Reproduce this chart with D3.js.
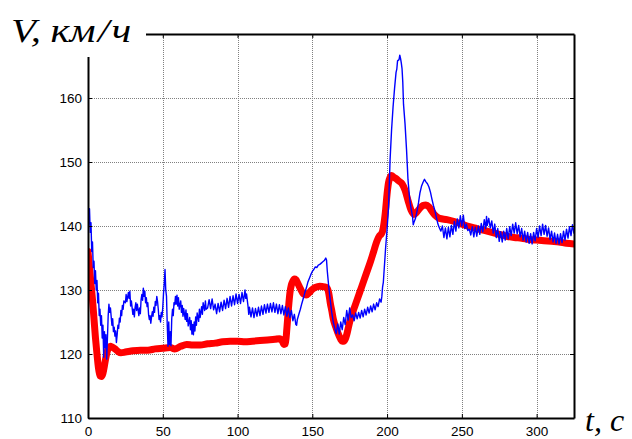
<!DOCTYPE html>
<html><head><meta charset="utf-8">
<script src="https://cdn.jsdelivr.net/npm/d3@7"></script>
<style>html,body{margin:0;padding:0;background:#fff;}svg{display:block;}</style>
</head><body>
<script>
const xTicks = [0, 50, 100, 150, 200, 250, 300];
const yTicks = [110, 120, 130, 140, 150, 160];
const xLabel = "t, c";

// Blue (measured) speed, [t, V]
const blueSeries = [
[0,138.5],[0.5,141],[1,142.7],[1.5,139],[2,140.5],[2.5,136],[3,137.5],[3.5,133.5],[4,134.5],[4.5,131],[5,133],[5.5,130],[6,131.5],[6.5,128],[7,129.5],[7.5,126],[8,127],[8.5,124.5],[9,126],[9.5,122.5],[10,124.5],[10.5,119.5],[11,123.5],[11.5,121],[12,123],[12.5,119.2],[13,122.5],[13.5,126],[14,127.8],[14.5,126.5],[15,127.2],[16,124.5],[16.5,125.5],[17,123.5],[17.5,124.2],[18,122.8],[18.5,123.6],[19,121.8],[19.5,123],[20,124.5],[20.5,124],[21,125.6],[21.5,125],[22,126.8],[22.5,126],[23,127.6],[23.5,127],[24,128.3],[25,128],[25.5,129.3],[26,128.2],[27,129.6],[27.5,128.7],[28,129.8],[28.5,127.5],[29,128.3],[30,126.2],[30.5,127],[31,125.8],[31.5,127.3],[32,128],[32.5,126.8],[33,127.8],[34,126],[34.5,127.2],[35,126.3],[35.5,128.5],[36,129.3],[36.5,128.4],[37,130.3],[37.5,129],[38,129.8],[38.5,128],[39,128.8],[39.5,127.4],[40,128],[40.5,126.2],[41,125.4],[41.5,126],[42,124.8],[42.5,125.8],[43,126.6],[43.5,125.9],[44,127.3],[44.5,126.5],[45,128.2],[45.5,127.6],[46,129],[46.5,128.2],[47,127],[47.5,125.4],[48,126],[48.5,125],[49,126.5],[49.5,125.8],[50,127.3],[50.5,129.5],[51,131],[51.5,133.2],[52,130],[52.5,129],[53,124.5],[53.5,121.2],[54,125],[54.5,121.5],[55,123.5],[55.5,121.3],
[56,125.5],[56.5,127],[57,126],[57.5,128],[58,127.7],[58.5,129],[59,127.8],[59.5,129.2],[60,127.5],[60.5,128.8],[61,127],[62,128.3],[62.5,126.5],[63,127.6],[63.5,125.9],[64,127.1],[65,125.4],[65.5,126.9],[66,125.1],[66.5,126.3],[67,124.4],[68,125.7],[68.5,123.8],[69,125.2],[69.5,123.1],[70,124.6],[70.5,123],[71,125],[71.5,123.6],[72,125.8],[72.5,124.5],[73,126.4],[74,125.1],[74.5,127],[75,125.7],[76,127.4],[76.5,126.2],[77,128],[78,126.8],[78.5,128.3],[79,127],
[80,127.2],[81,128.5],[82,127.1],[83,128.6],[84,126.9],[85,127.8],[86,126.3],[87,127.9],[88,126.6],[89,128.1],[90,126.8],[91,128.4],[92,127.1],[93,128.7],[94,127.3],[95,129],[96,127.5],[97,129.1],[98,127.7],[99,129.4],[100,127.9],[101,129.3],[102,127.9],[103,129.6],[104,128.2],[105,130],[105.5,128.7],[106,129.4],[107,127.5],[107.5,126.2],[108,127.3],[109,125.8],[110,127.2],[111,125.7],[112,127.1],[113,125.9],[114,127.3],[115,126],[116,127.5],[117,126.2],[118,127.7],[119,126.4],[120,127.8],[121,126.5],[122,127.9],[123,126.6],[124,128],[125,126.5],[126,127.8],[127,126.3],[128,127.7],[129,126.3],[130,127.6],[131,126.1],[132,127.4],[133,125.9],[134,127.2],[135,125.7],[136,126.8],[137,125.2],[138,126.2],[139,124.6],[139.5,124.5],
[140,125.4],[141,126.2],[142,127],[143,127.9],[144,128.7],[145,129.6],[146,130.3],[147,131.2],[148,131.8],[149,132.4],[150,132.9],[151,133.2],[152,133.6],[153,133.5],[154,133.9],[155,134],[156,134.2],[157,134.4],[158,134.6],[159,135],[159.5,134.7],[160,133],[161,130.5],[162,128.4],[163,126.5],[164,125],
[165,124],[166,123.2],[167,124.7],[168,123.1],[169,125],[170,123.8],[171,125.7],[172,124.6],[173,126.8],[174,125.3],[175,127.2],[176,125.7],[177,126.1],[178,125.2],[179,126.4],[180,125.5],[181,126.5],[182,125.6],[183,126.8],[184,125.8],[185,127],[186,126.1],[187,127.3],[188,126.4],[189,127.5],[190,126.6],[191,127.8],[192,126.9],[193,128],[194,127.4],[195,128.6],[196,128.1],[196.5,129],
[197,130.5],[197.5,131.2],[198,133],[198.5,134.7],[199,136.5],[199.5,138],[200,139.5],[201,143],[202,150.3],[203,155],[204,158.6],[205,161.5],[206,164],[206.5,164.5],[207,165.8],[208,166],[208.5,166.7],[209,166.2],[209.5,165.5],[210,164.6],[210.5,162.5],[211,159],[212,156],[213,152],[214,147.2],[215,144.5],[216,142.8],[217,141.5],[217.5,140.2],[218,140.6],[219,141.2],[220,142.3],[221,143.6],[222,145.2],[223,146.2],[224,146.8],[225,147.3],[226,146.9],[227,146.6],[228,146.1],[229,145.3],[230,144.2],[231,143.2],[232,142.4],[233,141.3],[234,140.3],[235,139.7],
[236,139.2],[237,140],[238,138.2],[239,139.7],[240,138],[241,139.8],[242,138.3],[243,140.1],[244,138.7],[245,140.7],[246,139.2],[247,141.1],[248,139.7],[249,141.6],[250,140],[251,141.7],[252,139.6],[253,140.3],[254,139.3],[255,139.5],[256,138.6],[257,139.9],[258,138.3],[259,139.8],[260,138.4],[261,140],[262,138.7],[263,140.4],[264,139.1],[265,141],[266,139.6],[266.5,141.5],[267,140.1],[268,141.2],[269,139.7],[270,140.8],[271,138.9],[272,140.3],[273,138.2],[274,139.6],[275,137.6],[276,139.1],[277,137.5],[278,139.2],[279,137.8],[280,139.6],[281,138],[282,139.9],[283,138.5],[284,140.3],[285,138.9],[286,140.5],[287,138.8],[288,140.1],[289,138.3],[290,139.6],[291,137.8],[292,139.2],[293,137.5],[294,139],[295,137.3],[296,138.8],[297,137.2],[298,139],[299,137.7],[300,139.6],[301,138.2],[302,140],[303,138.5],[304,140.3],[305,138.7],[306,140.1],[307,138.4],[308,139.7],[309,137.9],[310,139.2],[311,137.5],[312,138.9],[313,137.3],[314,138.7],[315,137.2],[316,138.8],[317,137.4],[318,139.2],[319,137.8],[320,139.5],[321,138.1],[322,139.9],[323,138.5],[324,140.2],[325,138.8]
];

// Red (model) speed, [t, V]
const redSeries = [
[0,136],[1,133.5],[2,131],[3,128.5],[4,125.5],[5,122.5],[6,120],[7,117.8],[8,116.6],[9,116.5],[10,117],[11,118.2],[12,119.5],[13,120.5],[14,121],[15,121.2],[16,121.1],[18,120.8],[20,120.4],[22,120.2],[25,120.3],[30,120.5],[35,120.6],[40,120.6],[45,120.8],[50,120.9],[55,121],[58,120.8],[62,121.2],[66,121.5],[70,121.4],[75,121.4],[80,121.6],[85,121.7],[90,121.9],[95,122],[100,122],[105,121.9],[110,122],[115,122.1],[120,122.2],[125,122.3],[128,122.4],[130,122],[131,121.5],[132,121.6],[133,124],[134,127],[135,129.5],[136,130.8],[137,131.4],[138,131.7],[139,131.6],[140,131.2],[142,130.2],[144,129.4],[146,129.2],[148,129.6],[150,130.1],[152,130.4],[155,130.6],[158,130.5],[160,130.3],[161,129.5],[162,128],[163,126.8],[164,125.5],[166,124],[168,122.8],[169,122.3],[170,122],[171,122],[172,122.3],[173,123],[174,124],[175,125],[177,126.5],[180,128.5],[183,130.5],[186,132.5],[189,134.5],[191,136],[193,137.5],[195,138.5],[196,138.7],[197,139.2],[198,140.5],[199,142.5],[200,145],[201,146.8],[202,147.6],[203,147.9],[204,147.7],[206,147.4],[208,147],[210,146.6],[212,145.6],[214,144],[216,142.5],[218,141.8],[220,142.2],[222,142.8],[224,143.2],[226,143.3],[228,143],[230,142.3],[232,141.7],[235,141.2],[240,141],[245,140.7],[250,140.3],[255,139.9],[260,139.6],[265,139.3],[270,139],[275,138.7],[280,138.4],[285,138.2],[290,138.1],[295,137.9],[300,137.8],[305,137.7],[310,137.6],[315,137.5],[320,137.3],[325,137.2]
];

const W = 632, H = 439;
const svg = d3.select("body").append("svg").attr("width", W).attr("height", H);
const x = d3.scaleLinear().domain([0, 325]).range([88, 574]);
const y = d3.scaleLinear().domain([110, 170]).range([418, 34]);

// grid
const grid = svg.append("g").attr("stroke", "#808080").attr("stroke-width", 1).attr("stroke-dasharray", "1,1");
grid.selectAll("line.v").data(xTicks.filter(d => d > 0)).join("line")
  .attr("x1", d => Math.round(x(d)) + 0.5).attr("x2", d => Math.round(x(d)) + 0.5)
  .attr("y1", y(170)).attr("y2", y(110));
grid.selectAll("line.h").data(yTicks.filter(d => d > 110)).join("line")
  .attr("x1", x(0)).attr("x2", x(325))
  .attr("y1", d => Math.round(y(d)) + 0.5).attr("y2", d => Math.round(y(d)) + 0.5);

svg.append("clipPath").attr("id", "clip").append("rect")
  .attr("x", x(0)).attr("y", y(170)).attr("width", x(325) - x(0)).attr("height", y(110) - y(170));

const plot = svg.append("g").attr("clip-path", "url(#clip)");
plot.append("path").datum(redSeries)
  .attr("d", d3.line().x(d => x(d[0])).y(d => y(d[1])).curve(d3.curveMonotoneX))
  .attr("fill", "none").attr("stroke", "#ff0000").attr("stroke-width", 7)
  .attr("stroke-linejoin", "round").attr("stroke-linecap", "round");
plot.append("path").datum(blueSeries)
  .attr("d", d3.line().x(d => x(d[0])).y(d => y(d[1])))
  .attr("fill", "none").attr("stroke", "#0000ff").attr("stroke-width", 1.4)
  .attr("stroke-linejoin", "round");

// axes (box style with inward ticks)
const axB = d3.axisBottom(x).tickValues(xTicks).tickSizeInner(-4).tickSizeOuter(0).tickPadding(8);
const axL = d3.axisLeft(y).tickValues(yTicks).tickSizeInner(-4).tickSizeOuter(0).tickPadding(6);
const axT = d3.axisTop(x).tickValues(xTicks).tickSizeInner(-4).tickSizeOuter(0).tickFormat("");
const axR = d3.axisRight(y).tickValues(yTicks).tickSizeInner(-4).tickSizeOuter(0).tickFormat("");

function style(g) {
  g.select(".domain").attr("stroke", "#000").attr("stroke-width", 2);
  g.selectAll(".tick line").attr("stroke", "#000").attr("stroke-width", 1);
  g.selectAll(".tick text").attr("fill", "#000")
    .style("font-family", "'Liberation Sans', Arial, sans-serif").style("font-size", "13.5px");
}
svg.append("g").attr("transform", `translate(0,${y(110)})`).call(axB).call(style);
svg.append("g").attr("transform", `translate(${x(0)},0)`).call(axL).call(style);
svg.append("g").attr("transform", `translate(0,${y(170)})`).call(axT).call(style);
svg.append("g").attr("transform", `translate(${x(325)},0)`).call(axR).call(style);

// axis labels (white box behind V label, like the reference)
svg.append("rect").attr("x", 0).attr("y", 0).attr("width", 146).attr("height", 57).attr("fill", "#fff");
const lblFont = "'Liberation Serif', 'Times New Roman', serif";
const yl = svg.append("text").attr("transform", "translate(11,42) scale(1.2,1)")
  .style("font-family", lblFont).style("font-style", "italic").style("font-size", "34px").attr("fill", "#000");
yl.append("tspan").text("V,");
yl.append("tspan").attr("dx", 8).text("км");
yl.append("tspan").attr("dx", 2).text("/");
yl.append("tspan").attr("dx", 2).text("ч");

svg.append("text").attr("x", 585).attr("y", 431)
  .style("font-family", lblFont).style("font-style", "italic").style("font-size", "32px").attr("fill", "#000")
  .text(xLabel);
</script>
</body></html>
